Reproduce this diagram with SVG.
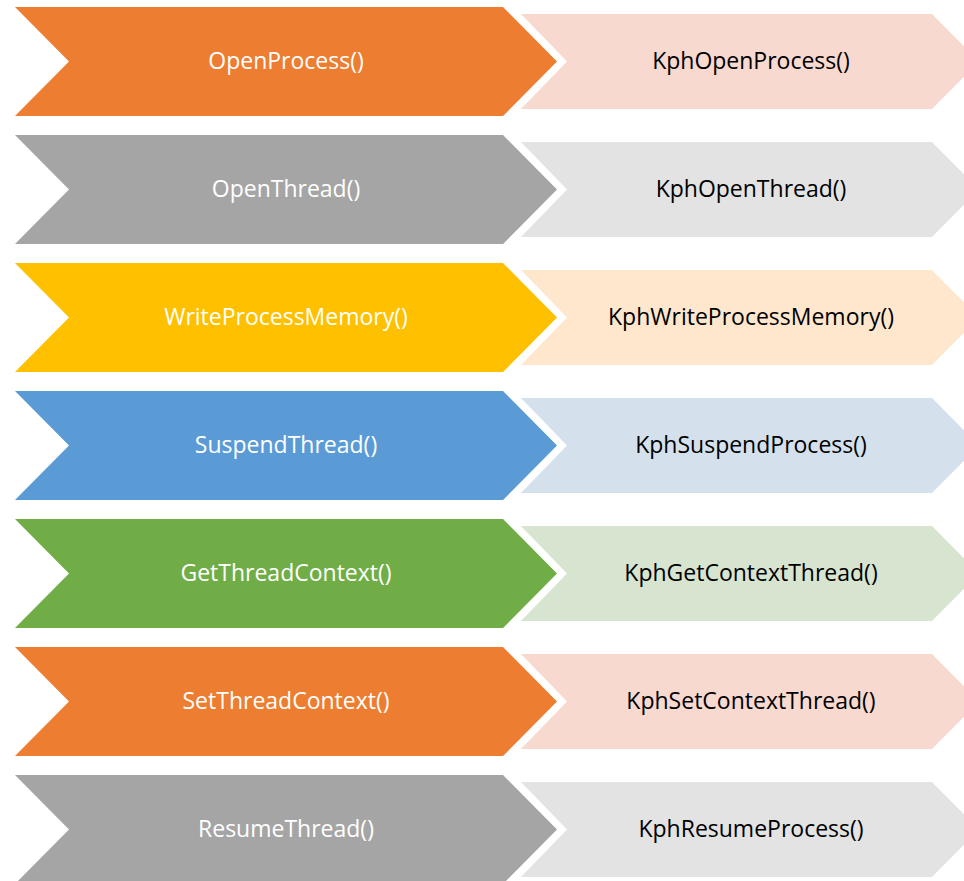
<svg xmlns="http://www.w3.org/2000/svg" width="964" height="881" viewBox="0 0 964 881">
<defs>
<style>
.t{font-family:"Open Sans","Liberation Sans",sans-serif;font-size:23px;text-anchor:middle;dominant-baseline:central}
.w{fill:#FFFFFF}
.k{fill:#000000}
</style>
<polygon id="chev" points="15,0 503,0 557,54.5 503,109 15,109 69,54.5"/>
<polygon id="pent" points="521,7 932,7 979,54.5 932,102 521,102 567,54.5"/>
</defs>
<rect width="964" height="881" fill="#FFFFFF"/>
<g id="row1" transform="translate(0,7)">
<use href="#chev" fill="#ED7D31"/><use href="#pent" fill="#F8D9CF"/>
<text class="t w" x="286" y="53">OpenProcess()</text>
<text class="t k" x="751" y="53">KphOpenProcess()</text>
</g>
<g id="row2" transform="translate(0,135)">
<use href="#chev" fill="#A5A5A5"/><use href="#pent" fill="#E3E3E3"/>
<text class="t w" x="286" y="53">OpenThread()</text>
<text class="t k" x="751" y="53">KphOpenThread()</text>
</g>
<g id="row3" transform="translate(0,263)">
<use href="#chev" fill="#FFC000"/><use href="#pent" fill="#FFE7CD"/>
<text class="t w" x="286" y="53">WriteProcessMemory()</text>
<text class="t k" x="751" y="53">KphWriteProcessMemory()</text>
</g>
<g id="row4" transform="translate(0,391)">
<use href="#chev" fill="#5B9BD5"/><use href="#pent" fill="#D5E0ED"/>
<text class="t w" x="286" y="53">SuspendThread()</text>
<text class="t k" x="751" y="53">KphSuspendProcess()</text>
</g>
<g id="row5" transform="translate(0,519)">
<use href="#chev" fill="#70AD47"/><use href="#pent" fill="#D7E4D0"/>
<text class="t w" x="286" y="53">GetThreadContext()</text>
<text class="t k" x="751" y="53">KphGetContextThread()</text>
</g>
<g id="row6" transform="translate(0,647)">
<use href="#chev" fill="#ED7D31"/><use href="#pent" fill="#F8D9CF"/>
<text class="t w" x="286" y="53">SetThreadContext()</text>
<text class="t k" x="751" y="53">KphSetContextThread()</text>
</g>
<g id="row7" transform="translate(0,775)">
<use href="#chev" fill="#A5A5A5"/><use href="#pent" fill="#E3E3E3"/>
<text class="t w" x="286" y="53">ResumeThread()</text>
<text class="t k" x="751" y="53">KphResumeProcess()</text>
</g>
<g id="connectors"></g>
</svg>
